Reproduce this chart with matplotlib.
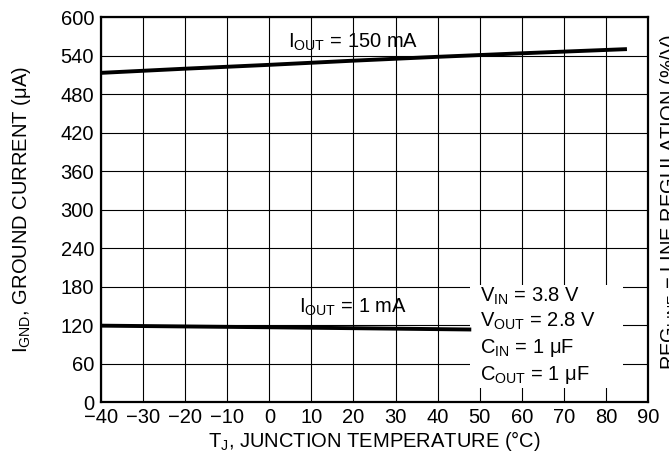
import matplotlib
matplotlib.use('Agg')
import matplotlib.pyplot as plt
from matplotlib.patches import Rectangle

plt.rcParams['font.family'] = ['Liberation Sans', 'DejaVu Sans']
plt.rcParams['mathtext.fontset'] = 'custom'
plt.rcParams['mathtext.rm'] = 'Liberation Sans'
plt.rcParams['mathtext.it'] = 'Liberation Sans:italic'

# ground current vs junction temperature
temps_150 = [-40, -20, 0, 20, 40, 60, 85]
ignd_150 = [513, 519.5, 525.5, 532, 538, 543.5, 550]
temps_1 = [-40, 0, 48]
ignd_1 = [119, 116.5, 113]

x_ticks = list(range(-40, 91, 10))
y_ticks = list(range(0, 601, 60))

conditions = [r'V$_{\rm IN}$ = 3.8 V', r'V$_{\rm OUT}$ = 2.8 V',
              r'C$_{\rm IN}$ = 1 μF', r'C$_{\rm OUT}$ = 1 μF']

fs = 14.5

fig = plt.figure(figsize=(6.69, 4.68), dpi=100)
ax = fig.add_axes([0.151, 0.141, 0.8176, 0.8226])

ax.set_xlim(-40, 90)
ax.set_ylim(0, 600)
ax.set_xticks(x_ticks)
ax.set_yticks(y_ticks)
ax.set_axisbelow(True)
ax.grid(True, color='black', linewidth=0.8)
ax.tick_params(length=0, labelsize=fs, colors='black')
ax.tick_params(axis='y', pad=5)
ax.tick_params(axis='x', pad=4)
for sp in ax.spines.values():
    sp.set_linewidth(1.6)

# white box that hides the grid behind the test conditions
ax.add_patch(Rectangle((47.7, 22), 36.3, 161, facecolor='white',
                       edgecolor='none', zorder=1))

ax.plot(temps_150, ignd_150, color='black', linewidth=2.8, zorder=2,
        solid_capstyle='butt')
ax.plot(temps_1, ignd_1, color='black', linewidth=2.8, zorder=2,
        solid_capstyle='butt')

ax.text(4.4, 552, r'I$_{\rm OUT}$ = 150 mA', fontsize=fs, va='baseline', zorder=3)
ax.text(7, 139, r'I$_{\rm OUT}$ = 1 mA', fontsize=fs, va='baseline', zorder=3)
for yy, s in zip([156, 118, 76, 34], conditions):
    ax.text(50, yy, s, fontsize=fs, va='baseline', zorder=3)

ax.set_xlabel(r'T$_{\rm J}$, JUNCTION TEMPERATURE (°C)', fontsize=fs, labelpad=2)
ax.set_ylabel(r'I$_{\rm GND}$, GROUND CURRENT (μA)', fontsize=fs, labelpad=20)

# right axis label, clipped by the figure edge as in the original
fig.text(0.983, 0.568, r'REG$_{\rm LINE}$ − LINE REGULATION (%/V)', fontsize=fs,
         rotation=90, ha='left', va='center')

fig.savefig('out.png', dpi=100)
